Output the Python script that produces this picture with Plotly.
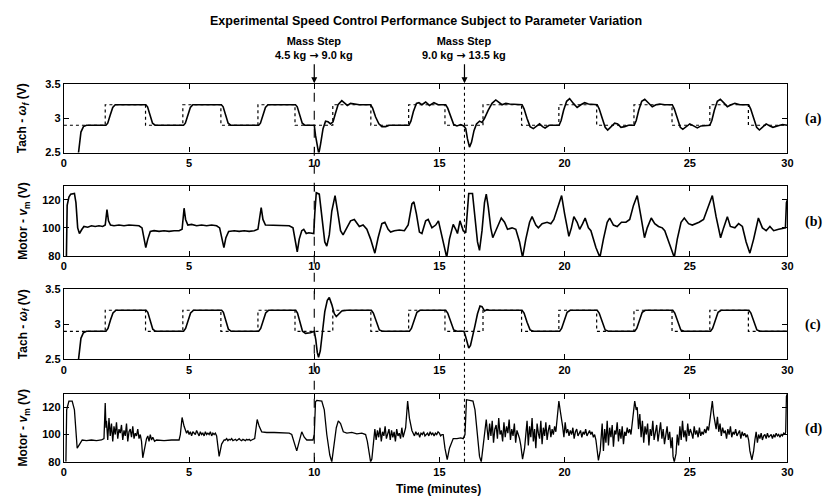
import plotly.graph_objects as go

# ---------------- data ----------------
X_TICKS = [0, 5, 10, 15, 20, 25, 28.9]
X_TICKTEXT = ["0", "5", "10", "15", "20", "25", "30"]
TACH_TICKS = [2.5, 3, 3.5]
TACH_TICKTEXT = ["2.5", "3", "3.5"]
MOTOR_TICKS = [80, 100, 120]
MASS_STEP_TIMES = [10, 16]
ARROW = '<span style="font-family:DejaVu Sans">\u2192</span>'
MASS_STEP_LABELS = ["Mass Step<br>4.5 kg " + ARROW + " 9.0 kg",
                    "Mass Step<br>9.0 kg " + ARROW + " 13.5 kg"]
PANEL_LABELS = ["(a)", "(b)", "(c)", "(d)"]

# reference (dotted) speed command
ref_low, ref_high = 2.9, 3.2
ref_up_times = [1.65, 4.75, 7.75, 10.74, 13.77, 16.74, 19.77, 22.77, 25.8]
ref_down_times = [3.26, 6.27, 9.23, 12.26, 15.22, 18.28, 21.28, 24.29, 27.34]
ref_end = 28.9

# (a) tach response
tach_a_t = [0.52, 0.6, 0.68, 0.78, 0.9, 1.68, 1.75, 1.85, 1.95, 2.05, 3.27, 3.34, 3.44, 3.54, 3.64,
            4.78, 4.85, 4.95, 5.05, 5.15, 6.29, 6.36, 6.46, 6.56, 6.66, 7.78, 7.85, 7.95, 8.05, 8.15,
            9.25, 9.32, 9.42, 9.52, 9.62, 10.0, 10.05, 10.12, 10.18, 10.25, 10.35, 10.45, 10.55, 10.65,
            10.75, 10.85, 10.95, 11.1, 11.22, 11.32, 11.45, 11.58, 11.8, 12.25, 12.33, 12.45, 12.58,
            12.7, 12.85, 13.0, 13.78, 13.86, 13.96, 14.08, 14.18, 14.3, 14.45, 14.6, 14.78, 14.95,
            15.25, 15.33, 15.45, 15.57, 15.7, 15.85, 15.97, 16.05, 16.12, 16.2, 16.28, 16.38, 16.48,
            16.6, 16.7, 16.8, 16.95, 17.1, 17.25, 17.4, 17.5, 17.65, 17.8, 18.3, 18.38, 18.5, 18.62,
            18.75, 18.88, 19.0, 19.12, 19.22, 19.38, 19.78, 19.86, 19.96, 20.08, 20.2, 20.35, 20.5,
            20.65, 20.8, 20.95, 21.3, 21.38, 21.5, 21.62, 21.72, 21.85, 22.0, 22.12, 22.25, 22.4,
            22.55, 22.78, 22.86, 22.96, 23.08, 23.2, 23.35, 23.5, 23.65, 23.8, 24.0, 24.3, 24.38,
            24.5, 24.62, 24.72, 24.85, 25.0, 25.15, 25.3, 25.45, 25.8, 25.88, 25.98, 26.1, 26.22,
            26.38, 26.5, 26.65, 26.8, 27.0, 27.35, 27.43, 27.55, 27.67, 27.78, 27.92, 28.05, 28.2,
            28.32, 28.5, 28.7, 28.9]
tach_a_v = [2.3, 2.6, 2.8, 2.88, 2.9, 2.9, 2.93, 3.05, 3.16, 3.2, 3.2, 3.17, 3.05, 2.93, 2.9,
            2.9, 2.93, 3.05, 3.16, 3.2, 3.2, 3.17, 3.05, 2.93, 2.9, 2.9, 2.93, 3.05, 3.16, 3.2,
            3.2, 3.17, 3.05, 2.93, 2.9, 2.9, 2.75, 2.55, 2.48, 2.62, 2.85, 2.96, 2.95, 2.92,
            2.95, 3.08, 3.2, 3.26, 3.22, 3.19, 3.22, 3.21, 3.2, 3.2, 3.15, 3.02, 2.92,
            2.88, 2.88, 2.9, 2.9, 2.96, 3.1, 3.22, 3.23, 3.2, 3.24, 3.19, 3.23, 3.2,
            3.2, 3.15, 3.02, 2.91, 2.89, 2.91, 2.89, 2.85, 2.7, 2.58, 2.65, 2.82, 2.92,
            2.96, 2.94, 3.0, 3.12, 3.22, 3.27, 3.22, 3.2, 3.22, 3.21, 3.2, 3.14, 3.0, 2.88,
            2.85, 2.88, 2.92, 2.88, 2.86, 2.9, 2.9, 2.97, 3.12, 3.25, 3.29, 3.22, 3.16,
            3.2, 3.23, 3.21, 3.2, 3.14, 3.0, 2.87, 2.83, 2.87, 2.93, 2.92, 2.87, 2.88,
            2.9, 2.9, 2.97, 3.12, 3.25, 3.28, 3.22, 3.17, 3.2, 3.21, 3.2, 3.2, 3.14,
            3.0, 2.87, 2.84, 2.88, 2.92, 2.89, 2.86, 2.89, 2.9, 2.97, 3.12, 3.25, 3.28,
            3.22, 3.17, 3.2, 3.22, 3.2, 3.2, 3.14, 3.0, 2.87, 2.83, 2.88, 2.92, 2.89,
            2.87, 2.89, 2.91, 2.9]

# (b) motor voltage
motor_b_t = [0.1, 0.13, 0.2, 0.27, 0.42, 0.48, 0.55, 0.62, 0.72, 0.8, 0.95, 1.1, 1.25, 1.4, 1.55,
             1.65, 1.72, 1.78, 1.86, 2.0, 2.2, 2.4, 2.6, 2.8, 3.0, 3.12, 3.2, 3.27, 3.35, 3.45,
             3.6, 3.8, 4.0, 4.2, 4.4, 4.6, 4.72, 4.8, 4.86, 4.95, 5.1, 5.3, 5.5, 5.7, 5.9, 6.1,
             6.22, 6.3, 6.39, 6.47, 6.58, 6.8, 7.0, 7.2, 7.4, 7.6, 7.75, 7.88, 7.95, 8.05, 8.2,
             8.4, 8.6, 8.8, 9.0, 9.15, 9.25, 9.32, 9.4, 9.5, 9.58, 9.68, 9.78, 9.9, 9.98, 10.02,
             10.08, 10.2, 10.3, 10.42, 10.5, 10.6, 10.7, 10.83, 10.93, 11.05, 11.15, 11.3, 11.45,
             11.6, 11.7, 11.8, 11.95, 12.1, 12.25, 12.42, 12.55, 12.7, 12.82, 12.95, 13.05, 13.2,
             13.4, 13.6, 13.75, 13.9, 13.98, 14.08, 14.2, 14.3, 14.45, 14.55, 14.7, 14.85, 14.96,
             15.08, 15.2, 15.29, 15.4, 15.55, 15.65, 15.72, 15.82, 15.95, 16.05, 16.12, 16.17,
             16.32, 16.4, 16.52, 16.6, 16.7, 16.8, 16.87, 16.95, 17.05, 17.13, 17.3, 17.47, 17.6,
             17.72, 17.9, 18.05, 18.2, 18.32, 18.45, 18.6, 18.7, 18.85, 18.95, 19.1, 19.3, 19.45,
             19.57, 19.72, 19.88, 20.0, 20.17, 20.27, 20.37, 20.5, 20.6, 20.72, 20.82, 20.95,
             21.05, 21.25, 21.41, 21.55, 21.7, 21.8, 21.95, 22.1, 22.27, 22.45, 22.6, 22.75, 22.9,
             23.05, 23.19, 23.3, 23.46, 23.6, 23.75, 23.9, 24.0, 24.2, 24.38, 24.5, 24.65, 24.78,
             24.95, 25.1, 25.37, 25.55, 25.75, 25.9, 26.05, 26.23, 26.35, 26.5, 26.62, 26.8, 26.95,
             27.1, 27.25, 27.4, 27.55, 27.74, 27.9, 28.05, 28.2, 28.35, 28.55, 28.75, 28.82,
             28.86, 28.9]
motor_b_v = [80, 116, 122, 124, 124.5, 118, 100, 96, 99, 101, 100.5, 101.5, 101, 101.5, 101,
             102, 113, 105, 102, 101.5, 102, 101.5, 102, 101.5, 101.5, 100, 93, 86, 92, 97.5,
             98, 97.5, 98, 97.5, 98, 98, 99, 114, 106, 102, 102.5, 101.5, 102, 101.5, 102, 101.5,
             100, 92, 86, 93, 97.5, 98, 97.5, 98, 97.5, 98, 99, 114.5, 106, 102, 102,
             101.5, 102, 101.5, 101.5, 100, 90, 83, 92, 98, 99, 96, 96.5, 96, 96, 110,
             125, 124, 110, 90, 87, 95, 112, 123, 112, 98, 95, 100, 105,
             106, 103, 101, 102, 99, 92, 82, 93, 103, 104, 99, 97, 98,
             98.5, 98, 102, 117, 118.5, 110, 97, 96, 105, 106, 100, 102, 105,
             96, 85, 79, 92, 102.5, 99, 96, 105, 98, 96.5, 118, 124.5,
             124.5, 112, 90, 84, 98, 118, 124, 115, 100, 93, 100, 107, 104,
             99, 100, 99, 90, 79, 92, 104, 108, 102, 100, 103, 104, 103,
             106, 115, 123, 110, 94, 100, 108, 104, 99, 103, 107, 100,
             98, 86, 79, 92, 104, 107, 102, 101, 104, 104, 106, 116, 123,
             108, 93, 100, 107, 103, 101, 100, 98, 88, 79, 92, 104, 107,
             103, 102, 104, 106, 115, 123, 108, 93, 100, 108, 101, 100, 103,
             101, 90, 82, 92, 107, 100, 98, 101, 98, 99, 99.5, 100,
             118, 120]

# (c) tach response, second controller
tach_c_t = [0.52, 0.6, 0.68, 0.78, 0.9, 1.68, 1.76, 1.86, 1.96, 2.08, 3.28, 3.35, 3.45, 3.55, 3.66,
            4.78, 4.86, 4.96, 5.06, 5.18, 6.3, 6.37, 6.47, 6.57, 6.68, 7.78, 7.86, 7.96, 8.06, 8.18,
            9.26, 9.33, 9.43, 9.53, 9.65, 9.85, 10.0, 10.06, 10.12, 10.17, 10.24, 10.33, 10.42,
            10.52, 10.6, 10.7, 10.8, 10.88, 10.98, 11.1, 11.3, 12.28, 12.36, 12.48, 12.6, 12.72,
            13.8, 13.88, 13.98, 14.1, 14.22, 15.25, 15.33, 15.45, 15.57, 15.7, 15.98, 16.05, 16.12,
            16.17, 16.24, 16.33, 16.42, 16.52, 16.62, 16.7, 16.8, 16.9, 17.0, 18.3, 18.38, 18.5,
            18.62, 18.75, 19.8, 19.88, 19.98, 20.1, 20.22, 21.3, 21.38, 21.5, 21.62, 21.75, 22.8,
            22.88, 22.98, 23.1, 23.22, 24.32, 24.4, 24.52, 24.64, 24.77, 25.83, 25.91, 26.01, 26.13,
            26.25, 27.36, 27.44, 27.56, 27.68, 27.81, 28.9]
tach_c_v = [2.3, 2.6, 2.8, 2.88, 2.9, 2.9, 2.94, 3.06, 3.16, 3.2, 3.2, 3.17, 3.05, 2.93, 2.9,
            2.9, 2.94, 3.06, 3.16, 3.2, 3.2, 3.17, 3.05, 2.93, 2.9, 2.9, 2.94, 3.06, 3.16, 3.2,
            3.2, 3.16, 3.02, 2.9, 2.87, 2.88, 2.9, 2.78, 2.6, 2.53, 2.62, 2.9, 3.18,
            3.34, 3.38, 3.28, 3.15, 3.11, 3.15, 3.19, 3.2, 3.2, 3.16, 3.03, 2.92, 2.9,
            2.9, 2.94, 3.06, 3.17, 3.2, 3.2, 3.16, 3.03, 2.92, 2.9, 2.9, 2.82, 2.7,
            2.66, 2.7, 2.82, 2.98, 3.15, 3.26, 3.25, 3.19, 3.21, 3.2, 3.2, 3.16, 3.03,
            2.92, 2.9, 2.9, 2.94, 3.06, 3.17, 3.2, 3.2, 3.16, 3.03, 2.92, 2.9, 2.9,
            2.94, 3.06, 3.17, 3.2, 3.2, 3.16, 3.03, 2.92, 2.9, 2.9, 2.94, 3.06, 3.17,
            3.2, 3.2, 3.16, 3.03, 2.92, 2.9, 2.9]

# (d) motor voltage, second controller: smooth parts
motor_d_t = [0.08, 0.11, 0.2, 0.33, 0.42, 0.53, 0.63, 0.73, 0.9, 1.1, 1.3, 1.5, 1.6, 1.65, 1.68,
             3.1, 3.15, 3.22, 3.3, 3.35, 3.4, 3.45, 3.5, 3.55, 3.62, 3.7, 4.0, 4.3, 4.6, 4.65, 4.72,
             4.8, 4.86, 6.1, 6.2, 6.3, 6.4, 7.62, 7.72, 7.8, 7.9, 8.1, 8.4, 8.7, 9.0, 9.1, 9.2, 9.3,
             9.4, 9.5, 9.6, 9.7, 9.95, 10.0, 10.05, 10.1, 10.3, 10.4, 10.5, 10.62, 10.7, 10.78,
             10.88, 10.96, 11.05, 11.16, 11.3, 11.5, 11.7, 11.9, 12.05, 12.12, 12.25, 12.3, 12.38,
             13.65, 13.73, 13.8, 13.9, 15.15, 15.22, 15.31, 15.4, 15.55, 15.7, 15.85, 15.95, 16.02,
             16.08, 16.2, 16.34, 16.42, 16.5, 16.6, 16.67, 16.75, 16.87, 18.25, 18.32, 18.4, 19.7,
             19.77, 19.82, 19.88, 21.3, 21.35, 21.42, 22.75, 22.8, 22.86, 24.33, 24.38, 24.45,
             25.85, 25.9, 25.95, 27.4, 27.48, 27.55, 28.83, 28.86, 28.9]
motor_d_v = [80, 118, 124.5, 124.5, 118, 90, 93, 96, 95.5, 96, 95.5, 96, 97, 123, 105,
             95, 83, 90, 97, 99, 95, 100, 96, 98, 95, 96, 95.5, 96, 96, 100, 112.5,
             106, 102, 99, 84, 93, 96, 97, 111, 106, 102, 101.5, 101.5, 101, 101, 100, 93, 88,
             95, 102, 98, 96, 96, 100, 124, 125, 124.5, 118, 100, 85, 80, 90,
             105, 110, 108, 102, 101, 101.5, 100.5, 101, 100, 95, 80, 82, 100,
             105, 124.5, 112, 103, 100, 90, 81.7, 90, 97, 97, 97.5, 97, 100,
             125.5, 125, 124.5, 118, 100, 84, 80, 92, 111, 92, 82, 90, 110,
             124.5, 118, 112, 90, 81, 88, 112, 124.5, 118, 84, 80, 86,
             118, 124.5, 115, 88, 81.5, 88, 102, 128, 130]

# (d) noisy stretches: start time, end time, hand-read samples
noise_starts = [1.70, 4.90, 6.45, 12.42, 13.95, 16.90, 18.45, 19.92, 21.45, 22.90, 24.50, 26.00, 27.60]
noise_ends = [3.05, 6.05, 7.55, 13.60, 15.10, 18.20, 19.65, 21.25, 22.70, 24.30, 25.80, 27.35, 28.80]
noise_vals = [
    [110, 96, 112, 99, 108, 95, 106, 100, 109, 97, 104, 101, 107, 96, 103, 99, 108, 95, 102, 104,
     98, 106, 97, 101, 99, 104, 97, 100],
    [101, 103, 100, 102, 99, 102, 101, 100, 103, 101, 99, 102, 100, 101, 99, 102, 100, 101, 100,
     102, 99, 101, 100, 101],
    [96, 97, 95.5, 96.5, 96, 97, 95.5, 96, 96.5, 95.5, 96, 97, 96, 95.5, 96.5, 96, 95.5, 96.5, 96,
     96.5, 95.5, 96, 96.5],
    [104, 96, 103, 98, 105, 95, 102, 99, 106, 97, 101, 104, 96, 103, 98, 102, 95, 104, 99, 101,
     97, 105, 98, 102],
    [101, 99, 102, 100, 101, 98, 101, 100, 102, 99, 100, 101, 99, 102, 100, 101, 99, 101, 100,
     102, 101, 99, 100],
    [105, 96, 108, 99, 110, 94, 104, 107, 97, 112, 100, 103, 95, 109, 98, 106, 101, 111, 96, 104,
     99, 108, 94, 103, 100, 97],
    [100, 110, 92, 106, 98, 112, 95, 104, 90, 108, 101, 97, 110, 93, 105, 99, 109, 96, 103, 107,
     98, 104, 100, 106, 102],
    [106, 98, 109, 101, 104, 99, 103, 100, 105, 97, 102, 104, 99, 101, 103, 98, 102, 100, 104,
     99, 101, 103, 100, 102, 98, 100, 96],
    [96, 108, 88, 104, 94, 110, 92, 105, 98, 107, 91, 103, 100, 109, 95, 104, 97, 106, 93, 102,
     99, 105, 101, 104, 100, 108],
    [120, 104, 115, 98, 110, 94, 106, 100, 108, 92, 104, 99, 110, 96, 103, 107, 95, 101, 109, 97,
     104, 93, 100, 106, 96, 102, 90, 98],
    [100, 92, 106, 96, 110, 98, 103, 95, 108, 99, 104, 101, 97, 106, 100, 103, 98, 105, 99, 102,
     100, 104, 101, 106, 103, 110],
    [110, 104, 113, 102, 108, 99, 105, 101, 103, 97, 104, 100, 106, 98, 102, 100, 104, 99, 101,
     103, 97, 102, 99, 101, 98, 100, 96],
    [96, 102, 94, 100, 97, 101, 96, 99, 100, 97, 101, 98, 99, 100, 97, 100, 98, 101, 99, 100, 98,
     100, 99, 101, 100],
]

# ---------------- build series ----------------
ref_t = [0.0]
ref_v = [ref_low]
for tu, td in zip(ref_up_times, ref_down_times):
    ref_t += [tu, tu, td, td]
    ref_v += [ref_low, ref_high, ref_high, ref_low]
ref_t.append(ref_end)
ref_v.append(ref_low)

d_pts = list(zip(motor_d_t, motor_d_v))
for t0, t1, vals in zip(noise_starts, noise_ends, noise_vals):
    n = len(vals)
    for i, v in enumerate(vals):
        d_pts.append((t0 + (t1 - t0) * i / (n - 1), v))
d_pts.sort(key=lambda p: p[0])
d_t = [p[0] for p in d_pts]
d_v = [p[1] for p in d_pts]

# ---------------- figure ----------------
OFF = 8                      # page body margin
W, H = 833 - OFF, 502 - OFF
FONT = "Liberation Sans Narrow, Arial Narrow, Liberation Sans, Arial, sans-serif"


def fx(p):
    return (p - OFF) / W


def fy(p):
    return 1 - (p - OFF) / H


panels = [(80, 150), (184, 256), (290, 362), (397, 467)]  # top, bottom in page px
XL, XR = 61.5, 793

fig = go.Figure()
line_main = dict(color="black", width=1.6)
line_ref = dict(color="black", width=1.2, dash="dot")

fig.add_trace(go.Scatter(x=ref_t, y=ref_v, mode="lines", line=line_ref, xaxis="x", yaxis="y"))
fig.add_trace(go.Scatter(x=tach_a_t, y=tach_a_v, mode="lines", line=line_main, xaxis="x", yaxis="y"))
fig.add_trace(go.Scatter(x=motor_b_t, y=motor_b_v, mode="lines", line=line_main, xaxis="x2", yaxis="y2"))
fig.add_trace(go.Scatter(x=ref_t, y=ref_v, mode="lines", line=line_ref, xaxis="x3", yaxis="y3"))
fig.add_trace(go.Scatter(x=tach_c_t, y=tach_c_v, mode="lines", line=line_main, xaxis="x3", yaxis="y3"))
fig.add_trace(go.Scatter(x=d_t, y=d_v, mode="lines", line=dict(color="black", width=1.3),
                         xaxis="x4", yaxis="y4"))

axis_common = dict(showline=True, linecolor="black", linewidth=1.4, mirror="ticks",
                   ticks="inside", ticklen=5, tickwidth=1.3, tickcolor="black",
                   showgrid=False, zeroline=False,
                   tickfont=dict(family=FONT, size=11, color="black", weight="bold"))

layout = dict(width=W, height=H, margin=dict(l=0, r=0, t=0, b=0),
              paper_bgcolor="white", plot_bgcolor="white", showlegend=False,
              font=dict(family=FONT, color="black"))

for i, (top, bot) in enumerate(panels):
    k = "" if i == 0 else str(i + 1)
    layout["xaxis" + k] = dict(axis_common, domain=[fx(XL), fx(XR)], range=[0, 28.9],
                               tickvals=X_TICKS, ticktext=X_TICKTEXT, anchor="y" + k)
    if i in (0, 2):
        ya = dict(range=[2.5, 3.5], tickvals=TACH_TICKS, ticktext=TACH_TICKTEXT)
    else:
        ya = dict(range=[80, 130], tickvals=MOTOR_TICKS)
    layout["yaxis" + k] = dict(axis_common, domain=[fy(bot), fy(top)], anchor="x" + k, **ya)

fig.update_layout(**layout)

# title
fig.add_annotation(text="Experimental Speed Control Performance Subject to Parameter Variation",
                   x=fx(428), y=fy(15), xref="paper", yref="paper", showarrow=False,
                   font=dict(family=FONT, size=12.5, weight="bold"), xanchor="center",
                   yanchor="middle")
# x axis title
fig.add_annotation(text="Time (minutes)", x=fx(440), y=fy(495), xref="paper", yref="paper",
                   showarrow=False, font=dict(family=FONT, size=12, weight="bold"), xanchor="center",
                   yanchor="middle")
# y axis titles
ytitles = ["Tach - <i>\u03c9<sub>f</sub></i> (V)", "Motor - <i>v</i><sub>m</sub> (V)",
           "Tach - <i>\u03c9<sub>f</sub></i> (V)", "Motor - <i>v</i><sub>m</sub> (V)"]
for (top, bot), txt in zip(panels, ytitles):
    fig.add_annotation(text=txt, x=fx(21), y=fy((top + bot) / 2), xref="paper", yref="paper",
                       showarrow=False, textangle=-90, font=dict(family=FONT, size=12, weight="bold"),
                       xanchor="center", yanchor="middle")
# panel labels
for (top, bot), lab in zip(panels, PANEL_LABELS):
    fig.add_annotation(text=lab, x=fx(819), y=fy((top + bot) / 2 + 1), xref="paper", yref="paper",
                       showarrow=False, font=dict(family="Liberation Serif, Times New Roman, serif",
                                                  size=14, weight="bold"),
                       xanchor="center", yanchor="middle")

# mass step markers
for t, lab, dash in zip(MASS_STEP_TIMES, MASS_STEP_LABELS, ["dash", "dot"]):
    fig.add_shape(type="line", xref="x", yref="paper", x0=t, x1=t, y0=fy(467), y1=fy(79),
                  line=dict(color="black", width=1.1, dash=dash))
    fig.add_annotation(x=t, y=fy(79), xref="x", yref="paper", text=lab, showarrow=True,
                       arrowhead=2, arrowsize=1, arrowwidth=1.2, arrowcolor="black",
                       ax=0, ay=-19, xanchor="center", yanchor="bottom",
                       font=dict(family=FONT, size=11, weight="bold"))

fig.write_html("out.html")
